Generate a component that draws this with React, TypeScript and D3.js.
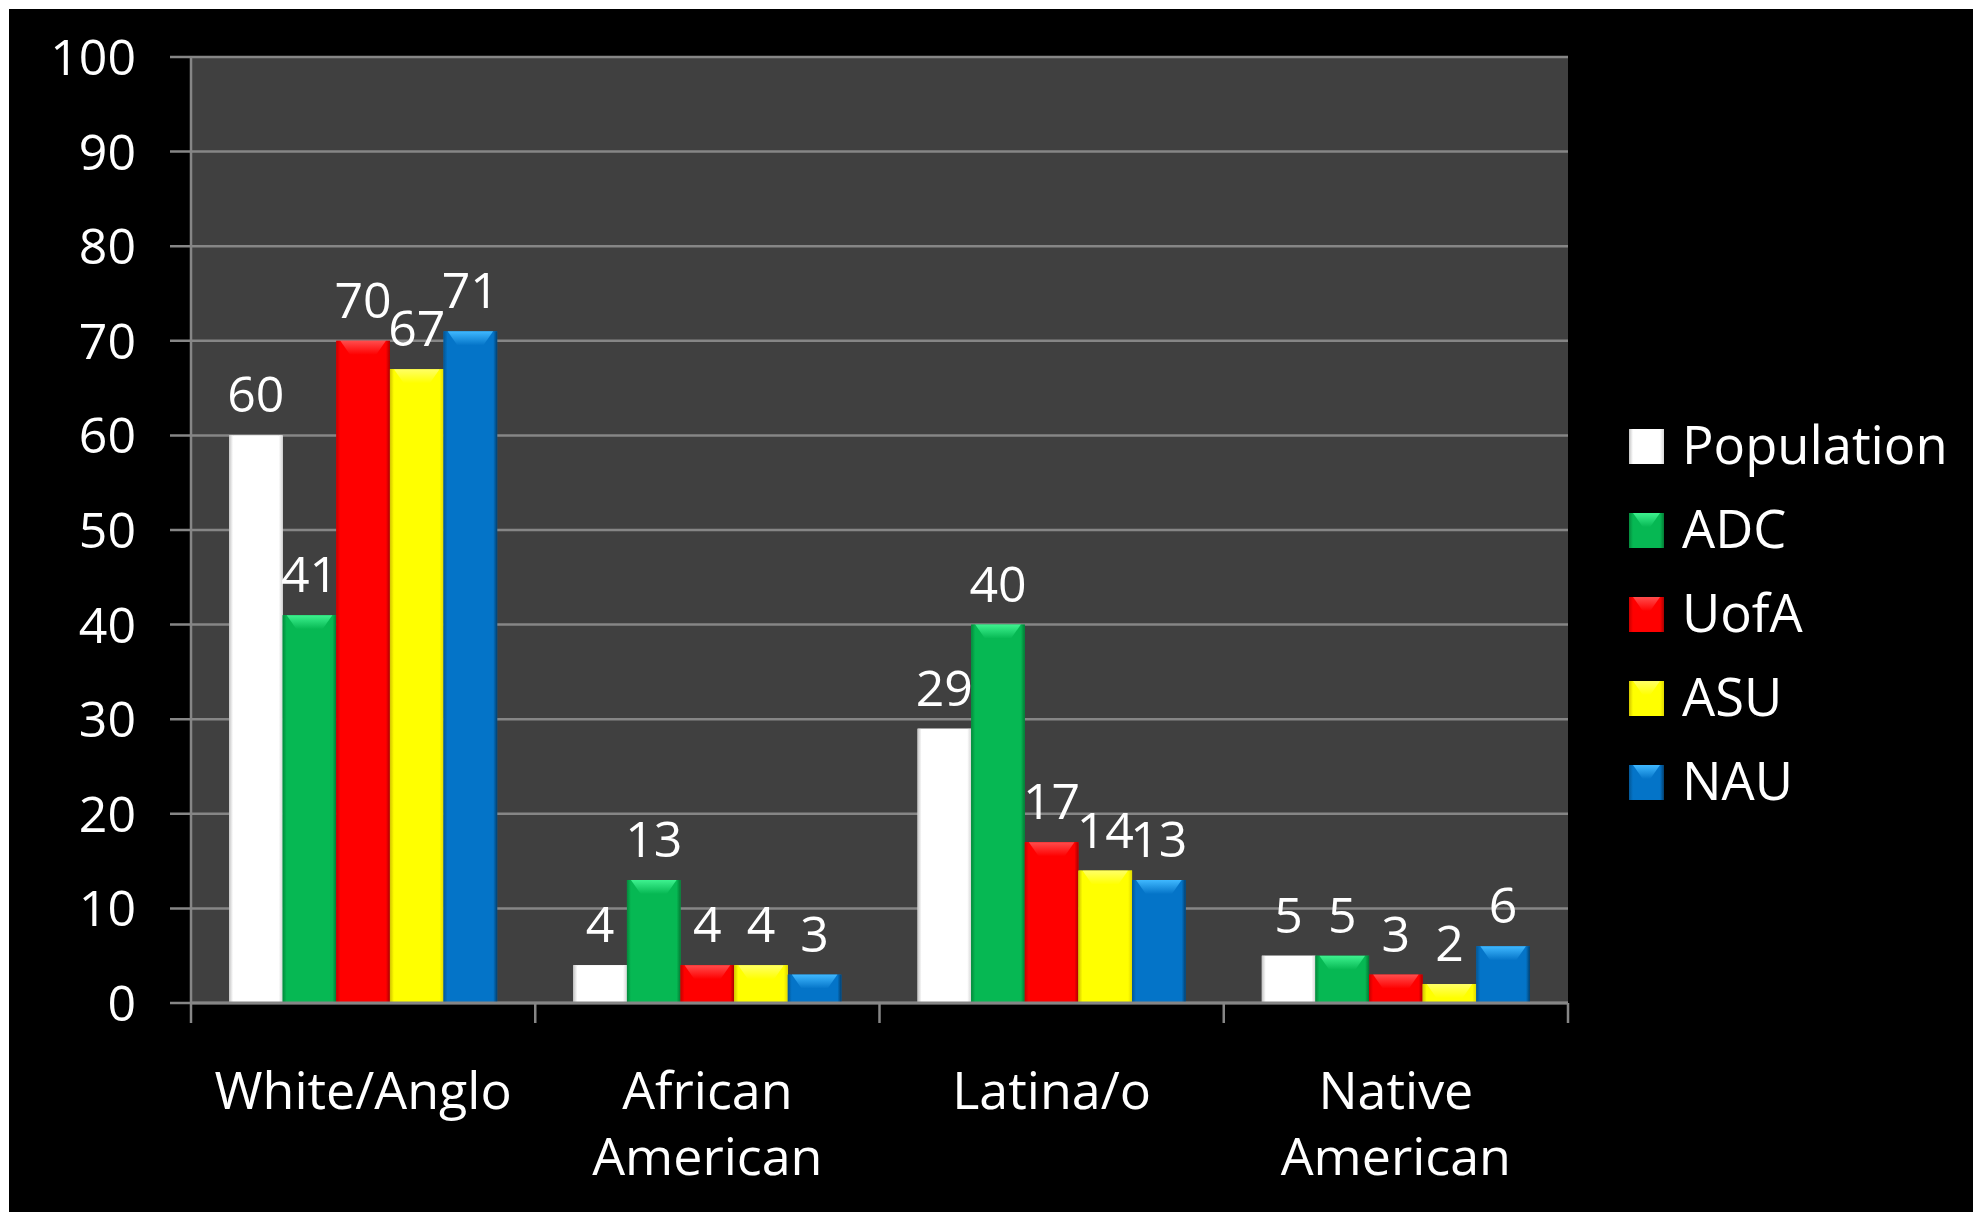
import React from "react";
import * as d3 from "d3";

// Enrollment share by race/ethnicity (%)
const categories: string[][] = [
  ["White/Anglo"],
  ["African", "American"],
  ["Latina/o"],
  ["Native", "American"],
];
const seriesNames = ["Population", "ADC", "UofA", "ASU", "NAU"];
const population = [60, 4, 29, 5];
const adc = [41, 13, 40, 5];
const uofa = [70, 4, 17, 3];
const asu = [67, 4, 14, 2];
const nau = [71, 3, 13, 6];
const seriesValues = [population, adc, uofa, asu, nau];
const yTicks = [0, 10, 20, 30, 40, 50, 60, 70, 80, 90, 100];

type Palette = { base: string; light: string; edgeL: string; edgeR: string };
const palettes: Palette[] = [
  { base: "#ffffff", light: "#ffffff", edgeL: "#c4c4c4", edgeR: "#d6d6d6" },
  { base: "#06b853", light: "#3ef28f", edgeL: "#048a3c", edgeR: "#037a34" },
  { base: "#ff0000", light: "#ff4d4d", edgeL: "#c80000", edgeR: "#a80000" },
  { base: "#ffff00", light: "#ffff66", edgeL: "#d2c400", edgeR: "#e0d800" },
  { base: "#0474c8", light: "#3fb8ff", edgeL: "#035796", edgeR: "#023f6e" },
];

const W = 1980;
const H = 1212;
const plot = { left: 191, right: 1568, top: 57, bottom: 1003 };
const FONT = "'Open Sans', 'Noto Sans', sans-serif";

function Bevel({ x, y, w, h, p, id }: { x: number; y: number; w: number; h: number; p: Palette; id: string }) {
  const edge = Math.min(4, w / 6);
  const bev = Math.min(14, h);
  return (
    <g>
      <rect x={x} y={y} width={w} height={h} fill={p.base} />
      <rect x={x} y={y} width={edge} height={h} fill={`url(#${id}-l)`} />
      <rect x={x + w - edge} y={y} width={edge} height={h} fill={`url(#${id}-r)`} />
      {bev > 0 && (
        <polygon
          points={`${x + edge},${y} ${x + w - edge},${y} ${x + w - edge - bev * 0.7},${y + bev} ${x + edge + bev * 0.7},${y + bev}`}
          fill={`url(#${id}-t)`}
        />
      )}
    </g>
  );
}

export default function App() {
  const x0 = d3
    .scaleBand<number>()
    .domain(d3.range(categories.length))
    .range([plot.left, plot.right]);
  const x1 = d3
    .scaleBand<number>()
    .domain(d3.range(seriesNames.length))
    .range([0, x0.bandwidth()])
    .paddingOuter(0.71);
  const y = d3.scaleLinear().domain([0, 100]).range([plot.bottom, plot.top]);

  const boundaries = d3.range(categories.length + 1).map((i) =>
    i < categories.length ? (x0(i) as number) : plot.right
  );

  return (
    <svg
      width={W}
      height={H}
      viewBox={`0 0 ${W} ${H}`}
      style={{ position: "absolute", left: 0, top: 0, display: "block" }}
    >
      <defs>
        {palettes.map((p, i) => (
          <g key={i}>
            <linearGradient id={`s${i}-l`} x1="0" x2="1" y1="0" y2="0">
              <stop offset="0" stopColor={p.edgeL} />
              <stop offset="1" stopColor={p.base} />
            </linearGradient>
            <linearGradient id={`s${i}-r`} x1="0" x2="1" y1="0" y2="0">
              <stop offset="0" stopColor={p.base} />
              <stop offset="1" stopColor={p.edgeR} />
            </linearGradient>
            <linearGradient id={`s${i}-t`} x1="0" x2="0" y1="0" y2="1">
              <stop offset="0" stopColor={p.light} />
              <stop offset="1" stopColor={p.base} />
            </linearGradient>
          </g>
        ))}
      </defs>

      <rect x={0} y={0} width={W} height={H} fill="#ffffff" />
      <rect x={9} y={9} width={1964} height={H - 9} fill="#000000" />

      {/* chart title, mostly outside the frame */}
      <text
        x={1180}
        y={-14}
        textAnchor="middle"
        fontFamily={FONT}
        fontWeight={700}
        fontSize={72}
        fill="#000000"
      >
        (%)
      </text>

      {/* plot area */}
      <rect
        x={plot.left}
        y={plot.top}
        width={plot.right - plot.left}
        height={plot.bottom - plot.top}
        fill="#404040"
      />

      {/* gridlines with left tick marks */}
      {yTicks.map((t) => (
        <line
          key={t}
          x1={plot.left - 21}
          x2={plot.right}
          y1={y(t)}
          y2={y(t)}
          stroke="#868686"
          strokeWidth={2.5}
        />
      ))}
      <line x1={plot.left} x2={plot.left} y1={plot.top} y2={plot.bottom} stroke="#868686" strokeWidth={2.5} />

      {/* y tick labels */}
      {yTicks.map((t) => (
        <text
          key={t}
          x={136}
          y={y(t) + 18}
          textAnchor="end"
          fontFamily={FONT}
          fontSize={50}
          fill="#ffffff"
        >
          {t}
        </text>
      ))}

      {/* bars */}
      {categories.map((_, ci) =>
        seriesValues.map((vals, si) => {
          const bx = (x0(ci) as number) + (x1(si) as number);
          const bw = x1.bandwidth();
          const by = y(vals[ci]);
          return (
            <Bevel
              key={`${ci}-${si}`}
              x={bx}
              y={by}
              w={bw}
              h={plot.bottom - by}
              p={palettes[si]}
              id={`s${si}`}
            />
          );
        })
      )}

      {/* value labels */}
      {categories.map((_, ci) =>
        seriesValues.map((vals, si) => {
          const bx = (x0(ci) as number) + (x1(si) as number) + x1.bandwidth() / 2;
          return (
            <text
              key={`l${ci}-${si}`}
              x={bx}
              y={y(vals[ci]) - 23}
              textAnchor="middle"
              fontFamily={FONT}
              fontSize={50}
              fill="#ffffff"
            >
              {vals[ci]}
            </text>
          );
        })
      )}

      {/* category axis */}
      <line x1={plot.left} x2={plot.right} y1={plot.bottom} y2={plot.bottom} stroke="#868686" strokeWidth={3} />
      {boundaries.map((bx, i) => (
        <line
          key={i}
          x1={bx}
          x2={bx}
          y1={plot.bottom}
          y2={plot.bottom + 20}
          stroke="#868686"
          strokeWidth={2.5}
        />
      ))}
      {categories.map((lines, ci) =>
        lines.map((ln, li) => (
          <text
            key={`${ci}-${li}`}
            x={(x0(ci) as number) + x0.bandwidth() / 2}
            y={1109 + li * 66}
            textAnchor="middle"
            fontFamily={FONT}
            fontSize={52}
            fill="#ffffff"
          >
            {ln}
          </text>
        ))
      )}

      {/* legend */}
      {seriesNames.map((name, si) => {
        const top = 429 + si * 84;
        return (
          <g key={name}>
            <Bevel x={1629} y={top} w={35} h={35} p={palettes[si]} id={`s${si}`} />
            <text x={1682} y={top + 35} fontFamily={FONT} fontSize={52.5} fill="#ffffff">
              {name}
            </text>
          </g>
        );
      })}
    </svg>
  );
}
